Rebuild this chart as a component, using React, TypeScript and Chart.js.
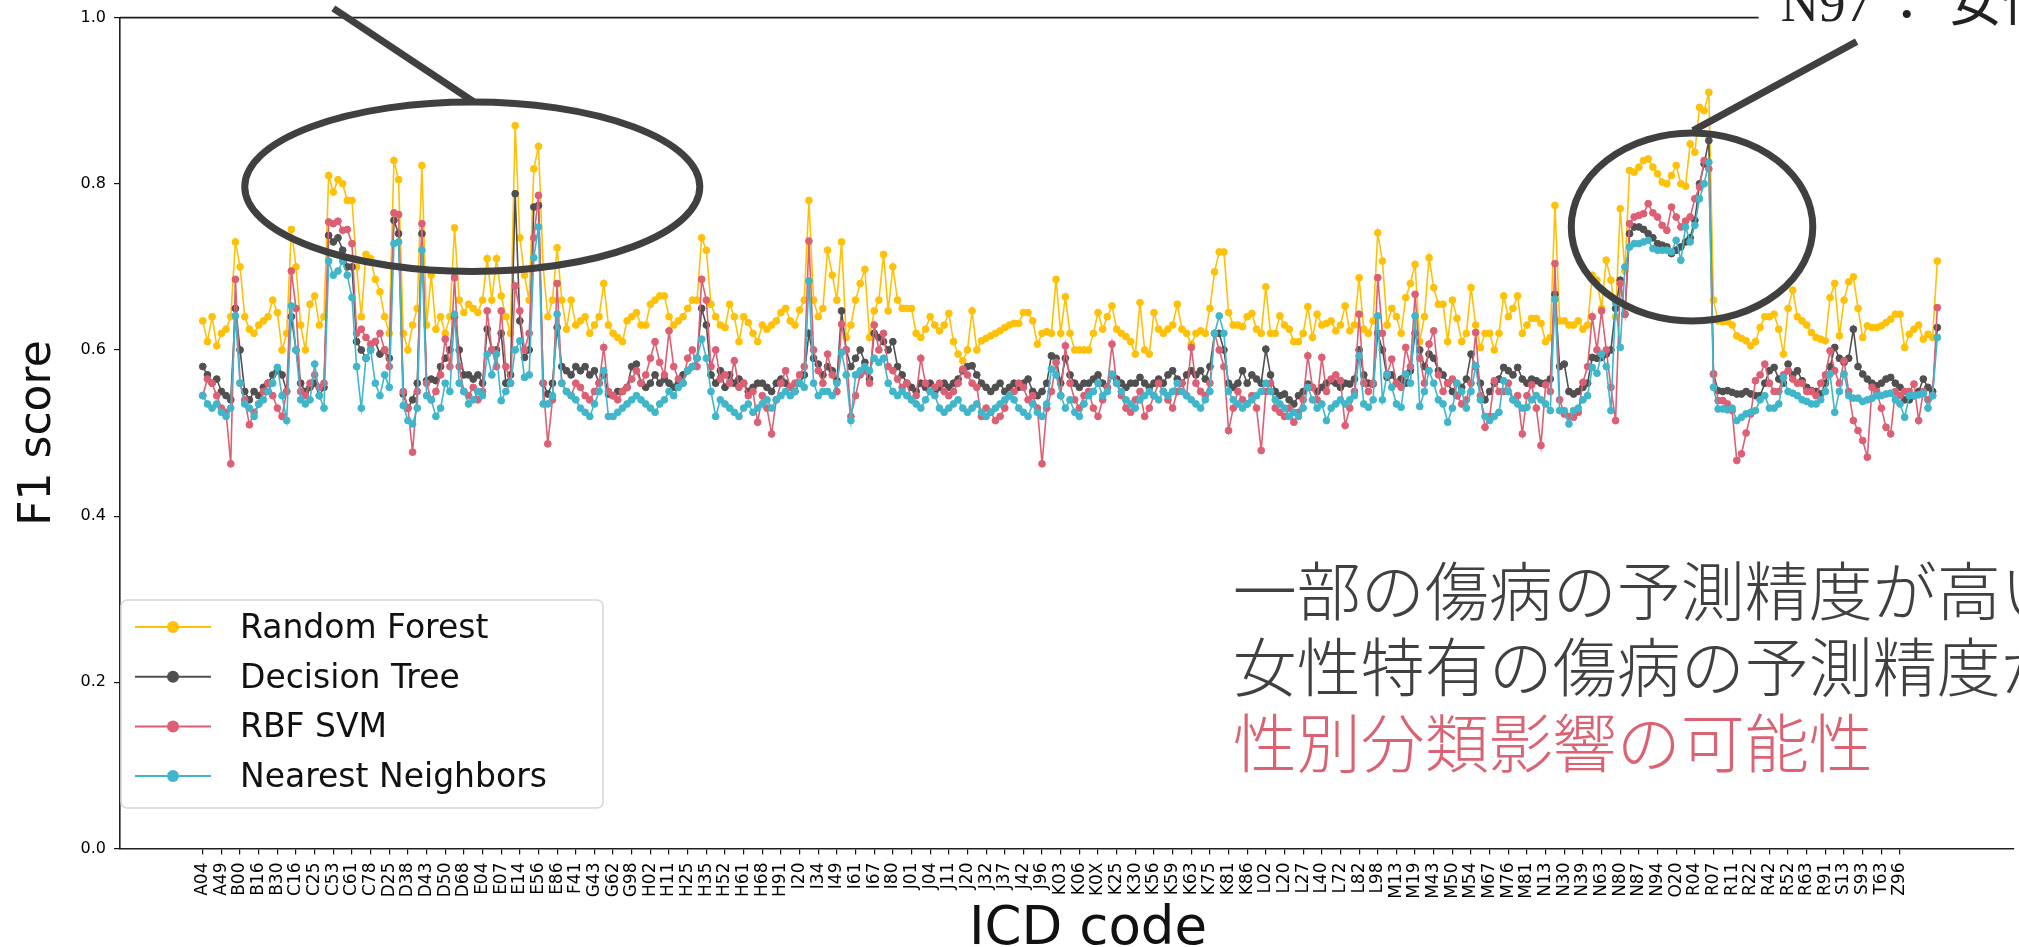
import { useEffect, useRef } from 'react';
import { Chart, registerables } from 'chart.js';

Chart.register(...registerables);

const CANVAS_W = 2019;
const CANVAS_H = 947;

// ICD codes printed under every fourth category on the x axis
const tickCodes = [
  'A04', 'A49', 'B00', 'B16', 'B30', 'C16', 'C25', 'C53', 'C61', 'C78',
  'D25', 'D38', 'D43', 'D50', 'D68', 'E04', 'E07', 'E14', 'E56', 'E86',
  'F41', 'G43', 'G62', 'G98', 'H02', 'H11', 'H25', 'H35', 'H52', 'H61',
  'H68', 'H91', 'I20', 'I34', 'I49', 'I61', 'I67', 'I80', 'J01', 'J04',
  'J11', 'J20', 'J32', 'J37', 'J42', 'J96', 'K03', 'K06', 'K0X', 'K25',
  'K30', 'K56', 'K59', 'K63', 'K75', 'K81', 'K86', 'L02', 'L20', 'L27',
  'L40', 'L72', 'L82', 'L98', 'M13', 'M19', 'M43', 'M50', 'M54', 'M67',
  'M76', 'M81', 'N13', 'N30', 'N39', 'N63', 'N80', 'N87', 'N94', 'O20',
  'R04', 'R07', 'R11', 'R22', 'R42', 'R52', 'R63', 'R91', 'S13', 'S93',
  'T63', 'Z96',
];
const CODES_PER_TICK = 4;

// F1 score per ICD category, in axis order
const randomForest = [
  0.635, 0.61, 0.64, 0.605, 0.62, 0.625, 0.64, 0.73, 0.70, 0.64,
  0.625, 0.62, 0.63, 0.635, 0.64, 0.66, 0.645, 0.60, 0.62, 0.745,
  0.70, 0.63, 0.60, 0.655, 0.665, 0.63, 0.64, 0.81, 0.79, 0.805,
  0.80, 0.78, 0.78, 0.70, 0.64, 0.715, 0.71, 0.685, 0.67, 0.64,
  0.62, 0.828, 0.805, 0.62, 0.60, 0.63, 0.65, 0.822, 0.63, 0.69,
  0.625, 0.64, 0.62, 0.64, 0.747, 0.66, 0.645, 0.655, 0.65, 0.645,
  0.66, 0.71, 0.66, 0.71, 0.665, 0.64, 0.62, 0.87, 0.735, 0.69,
  0.66, 0.818, 0.845, 0.70, 0.64, 0.66, 0.723, 0.66, 0.625, 0.66,
  0.63, 0.635, 0.64, 0.62, 0.63, 0.64, 0.68, 0.63, 0.62, 0.615,
  0.61, 0.635, 0.64, 0.645, 0.63, 0.63, 0.655, 0.66, 0.665, 0.665,
  0.64, 0.63, 0.635, 0.64, 0.65, 0.66, 0.66, 0.735, 0.72, 0.655,
  0.64, 0.63, 0.627, 0.655, 0.64, 0.61, 0.64, 0.633, 0.62, 0.61,
  0.63, 0.625, 0.63, 0.635, 0.645, 0.65, 0.635, 0.63, 0.648, 0.66,
  0.78, 0.66, 0.64, 0.65, 0.72, 0.69, 0.66, 0.73, 0.615, 0.63,
  0.66, 0.68, 0.697, 0.615, 0.647, 0.66, 0.715, 0.647, 0.70, 0.66,
  0.65, 0.65, 0.65, 0.62, 0.615, 0.625, 0.64, 0.63, 0.623, 0.63,
  0.644, 0.61, 0.595, 0.587, 0.60, 0.647, 0.60, 0.611, 0.614, 0.617,
  0.62, 0.623, 0.627, 0.63, 0.632, 0.632, 0.645, 0.645, 0.635, 0.607,
  0.62, 0.622, 0.62, 0.685, 0.62, 0.664, 0.62, 0.60, 0.60, 0.60,
  0.60, 0.62, 0.645, 0.625, 0.64, 0.653, 0.625, 0.62, 0.616, 0.61,
  0.595, 0.657, 0.60, 0.595, 0.645, 0.625, 0.62, 0.625, 0.63, 0.655,
  0.625, 0.62, 0.607, 0.62, 0.623, 0.62, 0.65, 0.694, 0.718, 0.718,
  0.645, 0.63, 0.63, 0.628, 0.64, 0.644, 0.625, 0.62, 0.676, 0.62,
  0.62, 0.641, 0.63, 0.625, 0.61, 0.61, 0.62, 0.652, 0.615, 0.643,
  0.63, 0.632, 0.635, 0.623, 0.63, 0.653, 0.623, 0.63, 0.687, 0.625,
  0.62, 0.635, 0.741, 0.707, 0.63, 0.65, 0.64, 0.62, 0.663, 0.68,
  0.703, 0.61, 0.64, 0.711, 0.675, 0.655, 0.655, 0.61, 0.66, 0.638,
  0.61, 0.62, 0.675, 0.63, 0.603, 0.62, 0.62, 0.60, 0.62, 0.665,
  0.64, 0.65, 0.665, 0.62, 0.63, 0.638, 0.638, 0.632, 0.61, 0.615,
  0.774, 0.635, 0.635, 0.63, 0.63, 0.635, 0.625, 0.63, 0.69, 0.684,
  0.65, 0.708, 0.684, 0.64, 0.77, 0.695, 0.816, 0.814, 0.82, 0.828,
  0.83, 0.82, 0.812, 0.802, 0.80, 0.81, 0.822, 0.80, 0.797, 0.848,
  0.838, 0.892, 0.888, 0.91, 0.66, 0.635, 0.634, 0.634, 0.63, 0.617,
  0.614, 0.611, 0.605, 0.61, 0.627, 0.64, 0.64, 0.643, 0.625, 0.595,
  0.65, 0.672, 0.64, 0.635, 0.63, 0.621, 0.615, 0.613, 0.611, 0.663,
  0.68, 0.617, 0.66, 0.682, 0.688, 0.65, 0.615, 0.629, 0.627, 0.627,
  0.629, 0.633, 0.637, 0.643, 0.643, 0.603, 0.619, 0.625, 0.63, 0.613,
  0.619, 0.615, 0.707,
];

const decisionTree = [
  0.58, 0.57, 0.56, 0.565, 0.55, 0.545, 0.54, 0.65, 0.60, 0.55,
  0.54, 0.55, 0.545, 0.555, 0.56, 0.57, 0.575, 0.57, 0.55, 0.64,
  0.60, 0.56, 0.55, 0.555, 0.56, 0.545, 0.555, 0.738, 0.73, 0.735,
  0.72, 0.70, 0.70, 0.61, 0.60, 0.59, 0.60, 0.61, 0.595, 0.60,
  0.59, 0.756, 0.74, 0.547, 0.53, 0.54, 0.56, 0.74, 0.563, 0.565,
  0.563, 0.58, 0.59, 0.60, 0.64, 0.60, 0.57, 0.57, 0.565, 0.57,
  0.56, 0.625, 0.60, 0.60, 0.62, 0.56, 0.57, 0.788, 0.635, 0.591,
  0.60, 0.772, 0.774, 0.56, 0.547, 0.56, 0.627, 0.58, 0.575, 0.57,
  0.58, 0.575, 0.58, 0.57, 0.575, 0.56, 0.57, 0.547, 0.545, 0.55,
  0.55, 0.555, 0.58, 0.583, 0.56, 0.555, 0.56, 0.57, 0.56, 0.565,
  0.56, 0.555, 0.56, 0.57, 0.575, 0.58, 0.59, 0.65, 0.63, 0.57,
  0.56, 0.575, 0.555, 0.57, 0.56, 0.565, 0.56, 0.55, 0.555, 0.56,
  0.56, 0.555, 0.55, 0.56, 0.565, 0.56, 0.555, 0.55, 0.56, 0.57,
  0.62, 0.59, 0.583, 0.57, 0.58, 0.575, 0.563, 0.647, 0.60, 0.58,
  0.59, 0.60, 0.585, 0.565, 0.62, 0.615, 0.61, 0.60, 0.61, 0.58,
  0.57, 0.56, 0.555, 0.55, 0.56, 0.555, 0.56, 0.55, 0.555, 0.56,
  0.555, 0.56, 0.565, 0.575, 0.58, 0.581, 0.57, 0.56, 0.555, 0.55,
  0.555, 0.56, 0.55, 0.555, 0.56, 0.555, 0.56, 0.565, 0.55, 0.545,
  0.55, 0.56, 0.593, 0.59, 0.56, 0.59, 0.57, 0.56, 0.555, 0.56,
  0.56, 0.565, 0.57, 0.56, 0.555, 0.57, 0.565, 0.56, 0.555, 0.56,
  0.56, 0.567, 0.56, 0.555, 0.56, 0.565, 0.56, 0.57, 0.575, 0.565,
  0.56, 0.57, 0.575, 0.57, 0.575, 0.565, 0.58, 0.62, 0.62, 0.60,
  0.56, 0.555, 0.56, 0.575, 0.56, 0.57, 0.565, 0.56, 0.601, 0.57,
  0.55, 0.545, 0.547, 0.54, 0.535, 0.545, 0.55, 0.559, 0.555, 0.55,
  0.555, 0.56, 0.563, 0.56, 0.555, 0.56, 0.559, 0.565, 0.60, 0.57,
  0.56, 0.559, 0.62, 0.60, 0.567, 0.57, 0.56, 0.565, 0.56, 0.575,
  0.62, 0.60, 0.58, 0.595, 0.59, 0.575, 0.57, 0.56, 0.55, 0.545,
  0.555, 0.565, 0.595, 0.58, 0.56, 0.54, 0.55, 0.56, 0.565, 0.579,
  0.575, 0.57, 0.579, 0.565, 0.56, 0.565, 0.563, 0.56, 0.56, 0.565,
  0.667, 0.58, 0.583, 0.55, 0.547, 0.55, 0.555, 0.56, 0.591, 0.59,
  0.591, 0.595, 0.60, 0.65, 0.684, 0.643, 0.74, 0.748, 0.748, 0.745,
  0.74, 0.735, 0.728, 0.726, 0.724, 0.716, 0.72, 0.724, 0.73, 0.735,
  0.756, 0.80, 0.824, 0.852, 0.571, 0.551, 0.55, 0.551, 0.549, 0.547,
  0.547, 0.55, 0.547, 0.545, 0.545, 0.56, 0.575, 0.579, 0.565, 0.56,
  0.583, 0.57, 0.575, 0.563, 0.555, 0.551, 0.55, 0.547, 0.56, 0.58,
  0.603, 0.59, 0.585, 0.59, 0.625, 0.58, 0.571, 0.565, 0.56, 0.557,
  0.56, 0.565, 0.567, 0.56, 0.555, 0.54, 0.54, 0.545, 0.55, 0.565,
  0.555, 0.55, 0.627,
];

const rbfSvm = [
  0.545, 0.565, 0.56, 0.545, 0.53, 0.525, 0.463, 0.685, 0.56, 0.54,
  0.51, 0.525, 0.535, 0.55, 0.56, 0.545, 0.53, 0.52, 0.55, 0.695,
  0.65, 0.55, 0.545, 0.56, 0.57, 0.555, 0.56, 0.754, 0.752, 0.755,
  0.744, 0.745, 0.728, 0.62, 0.625, 0.615, 0.607, 0.61, 0.62, 0.60,
  0.58, 0.765, 0.763, 0.55, 0.53, 0.477, 0.55, 0.752, 0.56, 0.54,
  0.55, 0.57, 0.613, 0.58, 0.687, 0.58, 0.55, 0.545, 0.555, 0.54,
  0.55, 0.647, 0.60, 0.58, 0.647, 0.58, 0.56, 0.677, 0.647, 0.60,
  0.62, 0.735, 0.786, 0.56, 0.487, 0.54, 0.68, 0.56, 0.55, 0.545,
  0.56, 0.555, 0.545, 0.54, 0.55, 0.56, 0.603, 0.55, 0.545, 0.54,
  0.55, 0.555, 0.565, 0.575, 0.56, 0.57, 0.59, 0.61, 0.585, 0.57,
  0.623, 0.58, 0.565, 0.56, 0.59, 0.60, 0.58, 0.685, 0.66, 0.58,
  0.60, 0.565, 0.57, 0.56, 0.587, 0.555, 0.56, 0.545, 0.55, 0.513,
  0.545, 0.53, 0.499, 0.54, 0.56, 0.575, 0.555, 0.56, 0.57, 0.58,
  0.731, 0.60, 0.575, 0.56, 0.595, 0.57, 0.55, 0.631, 0.60, 0.52,
  0.545, 0.57, 0.575, 0.56, 0.63, 0.60, 0.62, 0.58, 0.575, 0.565,
  0.555, 0.56, 0.54, 0.545, 0.59, 0.56, 0.55, 0.555, 0.56, 0.55,
  0.545, 0.55, 0.56, 0.577, 0.57, 0.56, 0.555, 0.52, 0.53, 0.525,
  0.515, 0.52, 0.53, 0.545, 0.55, 0.56, 0.555, 0.54, 0.545, 0.53,
  0.463, 0.53, 0.55, 0.585, 0.545, 0.605, 0.56, 0.54, 0.53, 0.545,
  0.55, 0.53, 0.52, 0.54, 0.555, 0.607, 0.56, 0.545, 0.53, 0.525,
  0.54, 0.55, 0.52, 0.53, 0.545, 0.56, 0.55, 0.54, 0.53, 0.55,
  0.56, 0.545, 0.603, 0.56, 0.55, 0.545, 0.56, 0.62, 0.60, 0.58,
  0.503, 0.53, 0.55, 0.54, 0.535, 0.545, 0.53, 0.479, 0.55, 0.56,
  0.53, 0.525, 0.52, 0.53, 0.513, 0.525, 0.54, 0.593, 0.555, 0.54,
  0.591, 0.55, 0.565, 0.57, 0.563, 0.509, 0.53, 0.55, 0.643, 0.56,
  0.55, 0.56, 0.687, 0.62, 0.57, 0.589, 0.56, 0.555, 0.603, 0.58,
  0.667, 0.59, 0.56, 0.607, 0.623, 0.57, 0.55, 0.56, 0.565, 0.545,
  0.535, 0.54, 0.56, 0.621, 0.545, 0.507, 0.52, 0.563, 0.55, 0.55,
  0.56, 0.54, 0.545, 0.499, 0.545, 0.558, 0.53, 0.485, 0.558, 0.55,
  0.704, 0.54, 0.523, 0.52, 0.519, 0.525, 0.561, 0.58, 0.64, 0.60,
  0.647, 0.60, 0.555, 0.515, 0.68, 0.643, 0.752, 0.76, 0.762, 0.764,
  0.776, 0.765, 0.76, 0.75, 0.744, 0.772, 0.76, 0.748, 0.755, 0.76,
  0.782, 0.796, 0.828, 0.818, 0.571, 0.539, 0.539, 0.535, 0.527, 0.467,
  0.475, 0.50, 0.523, 0.563, 0.57, 0.583, 0.56, 0.55, 0.55, 0.57,
  0.575, 0.565, 0.56, 0.56, 0.55, 0.55, 0.545, 0.56, 0.57, 0.599,
  0.575, 0.56, 0.587, 0.55, 0.515, 0.503, 0.491, 0.471, 0.555, 0.55,
  0.53, 0.507, 0.499, 0.55, 0.545, 0.55, 0.55, 0.559, 0.515, 0.55,
  0.54, 0.545, 0.651,
];

const nearestNeighbors = [
  0.545, 0.535, 0.53, 0.535, 0.525, 0.52, 0.53, 0.641, 0.56, 0.535,
  0.53, 0.52, 0.535, 0.54, 0.55, 0.56, 0.579, 0.545, 0.515, 0.653,
  0.60, 0.54, 0.535, 0.54, 0.583, 0.545, 0.53, 0.707, 0.69, 0.695,
  0.707, 0.69, 0.663, 0.58, 0.53, 0.59, 0.60, 0.56, 0.545, 0.57,
  0.555, 0.728, 0.73, 0.533, 0.515, 0.511, 0.53, 0.72, 0.545, 0.54,
  0.52, 0.53, 0.56, 0.55, 0.643, 0.56, 0.55, 0.535, 0.54, 0.55,
  0.545, 0.595, 0.57, 0.595, 0.539, 0.55, 0.56, 0.60, 0.611, 0.567,
  0.57, 0.711, 0.748, 0.535, 0.535, 0.545, 0.643, 0.56, 0.55, 0.545,
  0.54, 0.53, 0.525, 0.52, 0.535, 0.55, 0.575, 0.52, 0.52, 0.525,
  0.53, 0.535, 0.54, 0.545, 0.54, 0.535, 0.53, 0.525, 0.535, 0.54,
  0.55, 0.545, 0.555, 0.56, 0.575, 0.58, 0.59, 0.613, 0.59, 0.55,
  0.52, 0.54, 0.535, 0.53, 0.525, 0.52, 0.53, 0.535, 0.525, 0.53,
  0.535, 0.54, 0.53, 0.54, 0.545, 0.55, 0.545, 0.55, 0.56, 0.555,
  0.683, 0.56, 0.545, 0.55, 0.55, 0.545, 0.56, 0.597, 0.57, 0.515,
  0.57, 0.575, 0.58, 0.575, 0.59, 0.585, 0.59, 0.56, 0.55, 0.545,
  0.55, 0.545, 0.54, 0.535, 0.53, 0.54, 0.55, 0.545, 0.53, 0.525,
  0.53, 0.535, 0.54, 0.53, 0.525, 0.53, 0.535, 0.525, 0.52, 0.525,
  0.53, 0.535, 0.54, 0.545, 0.54, 0.53, 0.525, 0.52, 0.535, 0.525,
  0.52, 0.535, 0.577, 0.57, 0.545, 0.53, 0.54, 0.525, 0.52, 0.535,
  0.545, 0.55, 0.56, 0.545, 0.55, 0.571, 0.56, 0.55, 0.54, 0.535,
  0.53, 0.54, 0.545, 0.55, 0.545, 0.54, 0.55, 0.545, 0.55, 0.56,
  0.55, 0.545, 0.54, 0.535, 0.53, 0.54, 0.55, 0.62, 0.641, 0.62,
  0.55, 0.54, 0.535, 0.53, 0.535, 0.54, 0.545, 0.55, 0.56, 0.55,
  0.54, 0.535, 0.53, 0.52, 0.525, 0.52, 0.53, 0.555, 0.54, 0.53,
  0.535, 0.515, 0.53, 0.535, 0.54, 0.535, 0.54, 0.545, 0.593, 0.535,
  0.531, 0.54, 0.641, 0.54, 0.571, 0.555, 0.535, 0.531, 0.571, 0.56,
  0.641, 0.532, 0.55, 0.575, 0.56, 0.54, 0.535, 0.513, 0.53, 0.56,
  0.55, 0.53, 0.55, 0.581, 0.54, 0.52, 0.515, 0.52, 0.525, 0.563,
  0.55, 0.54, 0.535, 0.53, 0.531, 0.54, 0.545, 0.54, 0.535, 0.527,
  0.661, 0.527, 0.527, 0.511, 0.527, 0.53, 0.54, 0.545, 0.579, 0.572,
  0.595, 0.58, 0.527, 0.657, 0.603, 0.70, 0.724, 0.728, 0.728, 0.73,
  0.732, 0.722, 0.72, 0.72, 0.72, 0.718, 0.732, 0.708, 0.748, 0.73,
  0.75, 0.782, 0.80, 0.826, 0.555, 0.529, 0.529, 0.528, 0.53, 0.515,
  0.519, 0.523, 0.525, 0.527, 0.54, 0.545, 0.53, 0.53, 0.535, 0.567,
  0.55, 0.548, 0.545, 0.54, 0.538, 0.535, 0.535, 0.54, 0.55, 0.571,
  0.525, 0.55, 0.571, 0.545, 0.542, 0.542, 0.538, 0.54, 0.542, 0.545,
  0.545, 0.547, 0.548, 0.54, 0.535, 0.519, 0.545, 0.545, 0.546, 0.548,
  0.53, 0.545, 0.615,
];

const seriesNames = ['Random Forest', 'Decision Tree', 'RBF SVM', 'Nearest Neighbors'];
const seriesColors = ['#FFC107', '#505050', '#DC5F73', '#3FB6CA'];
const seriesValues = [randomForest, decisionTree, rbfSvm, nearestNeighbors];

// Circled regions (category index / F1 units) and their leader lines
const highlightEllipses = [
  { cx: 57.8, cy: 0.7965, rx: 48.8, ry: 0.102 },
  { cx: 319.4, cy: 0.748, rx: 25.9, ry: 0.113 },
];
const leaderLines = [
  { x1: 28.0, y1: 1.011, x2: 58.0, y2: 0.899 },
  { x1: 319.6, y1: 0.864, x2: 354.7, y2: 0.971 },
];
// Note at the top right: code, separator, description
const noteCode = 'N97';
const noteSeparator = '：';
const noteDescription = '女性特有の傷病';
const noteAnchor = { x: 338.4, y: 0.996 };
const captionLines = ['一部の傷病の予測精度が高い', '女性特有の傷病の予測精度が高い', '性別分類影響の可能性'];
const captionColors = ['#404040', '#404040', '#DB6272'];
const captionAnchor = { x: 220.9, y: [0.3107, 0.2194, 0.1268] };

const overlayPlugin = {
  id: 'figureOverlay',
  afterDraw(chart: any) {
    const { ctx, chartArea, scales } = chart;
    const px = (v: number) => scales.x.getPixelForValue(v);
    const py = (v: number) => scales.y.getPixelForValue(v);
    ctx.save();

    // top spine, interrupted by the note text
    const noteX = px(noteAnchor.x);
    const noteY = py(noteAnchor.y);
    ctx.strokeStyle = '#1f1f1f';
    ctx.lineWidth = 1.6;
    ctx.beginPath();
    ctx.moveTo(chartArea.left, chartArea.top);
    ctx.lineTo(noteX - 22, chartArea.top);
    ctx.stroke();

    ctx.fillStyle = '#222';
    ctx.font = "53px 'Liberation Serif', 'Noto Sans CJK JP', serif";
    ctx.textAlign = 'left';
    ctx.textBaseline = 'alphabetic';
    ctx.fillText(noteCode, noteX, noteY);
    ctx.textAlign = 'center';
    ctx.fillText(noteSeparator, noteX + 126, noteY);
    ctx.textAlign = 'left';
    ctx.fillText(noteDescription, noteX + 168, noteY);

    // circled regions
    ctx.strokeStyle = '#404040';
    ctx.lineWidth = 7;
    for (const e of highlightEllipses) {
      const cx = px(e.cx);
      const cy = py(e.cy);
      const rx = px(e.cx + e.rx) - cx;
      const ry = cy - py(e.cy + e.ry);
      ctx.beginPath();
      ctx.ellipse(cx, cy, rx, ry, 0, 0, Math.PI * 2);
      ctx.stroke();
    }
    for (const l of leaderLines) {
      ctx.beginPath();
      ctx.moveTo(px(l.x1), py(l.y1));
      ctx.lineTo(px(l.x2), py(l.y2));
      ctx.stroke();
    }

    // caption
    ctx.font = "300 64px 'Noto Sans CJK JP', sans-serif";
    ctx.textBaseline = 'middle';
    captionLines.forEach((t, i) => {
      ctx.fillStyle = captionColors[i];
      ctx.fillText(t, px(captionAnchor.x), py(captionAnchor.y[i]));
    });

    // legend
    const lx = chartArea.left + 1;
    const ly = 600;
    const lw = 482;
    const lh = 208;
    ctx.beginPath();
    ctx.roundRect(lx, ly, lw, lh, 6);
    ctx.fillStyle = 'rgba(255,255,255,0.85)';
    ctx.fill();
    ctx.strokeStyle = '#d6d6d6';
    ctx.lineWidth = 1.5;
    ctx.stroke();
    ctx.font = "33px 'DejaVu Sans', sans-serif";
    ctx.textBaseline = 'alphabetic';
    seriesNames.forEach((name, i) => {
      const rowY = 627 + i * 49.7;
      ctx.strokeStyle = seriesColors[i];
      ctx.lineWidth = 2;
      ctx.beginPath();
      ctx.moveTo(lx + 14, rowY);
      ctx.lineTo(lx + 90, rowY);
      ctx.stroke();
      ctx.fillStyle = seriesColors[i];
      ctx.beginPath();
      ctx.arc(lx + 52, rowY, 6, 0, Math.PI * 2);
      ctx.fill();
      ctx.fillStyle = '#111';
      ctx.fillText(name, lx + 119, rowY + 11);
    });

    // axis titles
    ctx.fillStyle = '#111';
    ctx.font = "44px 'DejaVu Sans', sans-serif";
    ctx.textAlign = 'center';
    ctx.textBaseline = 'middle';
    ctx.save();
    ctx.translate(39, (chartArea.top + chartArea.bottom) / 2);
    ctx.rotate(-Math.PI / 2);
    ctx.fillText('F1 score', 0, 0);
    ctx.restore();
    ctx.font = "53px 'DejaVu Sans', sans-serif";
    ctx.textBaseline = 'alphabetic';
    ctx.fillText('ICD code', 1088, 944);

    ctx.restore();
  },
};

export default function App() {
  const canvasRef = useRef<HTMLCanvasElement>(null);

  useEffect(() => {
    const canvas = canvasRef.current;
    if (!canvas) return;
    const order = [3, 2, 1, 0];
    const chart = new Chart(canvas, {
      type: 'line',
      data: {
        datasets: seriesValues.map((vals, s) => ({
          label: seriesNames[s],
          data: vals.map((v, i) => ({ x: i, y: v })),
          borderColor: seriesColors[s],
          backgroundColor: seriesColors[s],
          pointBackgroundColor: seriesColors[s],
          pointBorderColor: seriesColors[s],
          borderWidth: 1.6,
          pointRadius: 3.4,
          pointBorderWidth: 1,
          pointStyle: 'circle',
          tension: 0,
          order: order[s],
        })),
      },
      options: {
        responsive: false,
        animation: false,
        devicePixelRatio: 1,
        events: [],
        layout: { padding: { top: 16.7, left: 0, right: 0, bottom: 0 } },
        plugins: { legend: { display: false }, tooltip: { enabled: false } },
        scales: {
          x: {
            type: 'linear',
            min: -17.75,
            max: 388.45,
            afterFit: (scale: any) => {
              scale.height = 98.5;
            },
            afterBuildTicks: (scale: any) => {
              scale.ticks = tickCodes.map((_, k) => ({ value: k * CODES_PER_TICK }));
            },
            ticks: {
              autoSkip: false,
              minRotation: 90,
              maxRotation: 90,
              padding: 8,
              color: '#000',
              font: { family: "'DejaVu Sans'", size: 17 },
              callback: (value: any) => tickCodes[Math.round(Number(value) / CODES_PER_TICK)] ?? '',
            },
            grid: { drawOnChartArea: false, drawTicks: true, tickLength: 6, color: '#111', lineWidth: 1.2 },
            border: { display: true, color: '#1f1f1f', width: 1.6 },
          },
          y: {
            min: 0,
            max: 1,
            afterFit: (scale: any) => {
              scale.width = 120;
            },
            ticks: {
              stepSize: 0.2,
              padding: 8,
              color: '#000',
              font: { family: "'DejaVu Sans'", size: 16 },
              callback: (value: any) => Number(value).toFixed(1),
            },
            grid: { drawOnChartArea: false, drawTicks: true, tickLength: 6, color: '#111', lineWidth: 1.2 },
            border: { display: true, color: '#1f1f1f', width: 1.6 },
          },
        },
      },
      plugins: [overlayPlugin],
    });
    return () => chart.destroy();
  }, []);

  return (
    <div style={{ position: 'fixed', left: 0, top: 0, width: CANVAS_W, height: CANVAS_H, background: '#fff' }}>
      <canvas ref={canvasRef} width={CANVAS_W} height={CANVAS_H} style={{ display: 'block' }} />
    </div>
  );
}
